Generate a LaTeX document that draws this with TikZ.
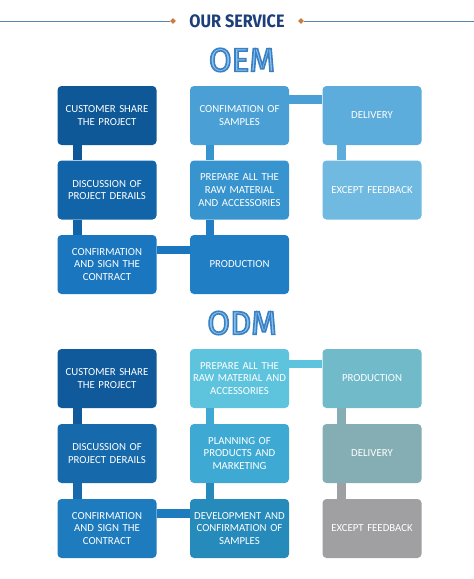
\documentclass[tikz,border=0pt]{standalone}
\usepackage{fontspec}
\setmainfont{Carlito}
\newfontfamily\headfont[FakeStretch=0.9]{Fira Sans}
\newfontfamily\titlefont{Fira Sans}
\usetikzlibrary{shapes.geometric}
\definecolor{navy}{RGB}{28,62,122}
\definecolor{rulecol}{RGB}{88,132,178}
\definecolor{dotcol}{RGB}{204,122,62}
\definecolor{titlefill}{RGB}{140,196,236}
% OEM colours
\definecolor{oemA}{RGB}{14,88,152}
\definecolor{oemB}{RGB}{18,100,168}
\definecolor{oemC}{RGB}{26,118,190}
\definecolor{oemD}{RGB}{32,126,196}
\definecolor{oemE}{RGB}{56,148,206}
\definecolor{oemF}{RGB}{74,160,212}
\definecolor{oemG}{RGB}{92,172,220}
\definecolor{oemH}{RGB}{112,186,226}
% ODM colours
\definecolor{odmA}{RGB}{16,90,156}
\definecolor{odmB}{RGB}{22,106,172}
\definecolor{odmC}{RGB}{30,124,190}
\definecolor{odmD}{RGB}{38,138,186}
\definecolor{odmE}{RGB}{62,170,212}
\definecolor{odmF}{RGB}{94,196,222}
\definecolor{odmG}{RGB}{112,186,202}
\definecolor{odmH}{RGB}{132,174,180}
\definecolor{odmI}{RGB}{160,160,162}
% outlined letters: fill and stroke (stroke in RGB 58,128,196)
\newcommand{\rimtext}[1]{\special{pdf:code q 2 Tr 1.6 w 0.227 0.502 0.769 RG}#1\special{pdf:code Q}}
\tikzstyle{stagebox} = [rectangle, rounded corners=4pt, minimum width=99pt, minimum height=59pt, text width=96pt, align=center, text=white, font=\fontsize{10.8}{12.6}\selectfont, inner sep=0pt]
\tikzstyle{link} = [line width=8.5pt]
\tikzstyle{bigtitle} = [font=\titlefont\fontsize{33}{33}\selectfont, inner sep=0pt, text=titlefill]

\begin{document}
\begin{tikzpicture}[x=1pt,y=-1pt]
\useasboundingbox (0,0) rectangle (474,579);
\fill[white] (0,0) rectangle (474,579);

% Header
\node[font=\headfont\bfseries\fontsize{18}{18}\selectfont, text=navy] (service) at (237,21) {OUR SERVICE};
\node[diamond, fill=dotcol, inner sep=0pt, minimum size=6pt] (dotleft) at (173,21) {};
\node[diamond, fill=dotcol, inner sep=0pt, minimum size=6pt] (dotright) at (301,21) {};
\coordinate (ruleleft) at (0,21);
\coordinate (ruleright) at (474,21);
\draw[rulecol, line width=1pt] (ruleleft) -- (dotleft);
\draw[rulecol, line width=1pt] (dotright) -- (ruleright);

% OEM
\node[bigtitle] (oemtitle) at (242,60) {\rimtext{OEM}};

\node[stagebox, fill=oemA] (oemshare) at (107,115.5) {CUSTOMER SHARE\\THE PROJECT};
\node[stagebox, fill=oemB] (oemdiscuss) at (107,190) {DISCUSSION OF\\PROJECT DERAILS};
\node[stagebox, fill=oemC] (oemsign) at (107,264.5) {CONFIRMATION\\AND SIGN THE\\CONTRACT};
\node[stagebox, fill=oemD] (oemprod) at (239.5,264.5) {PRODUCTION};
\node[stagebox, fill=oemE] (oemraw) at (239.5,190) {PREPARE ALL THE\\RAW MATERIAL\\AND ACCESSORIES};
\node[stagebox, fill=oemF] (oemsample) at (239.5,115.5) {CONFIMATION OF\\SAMPLES};
\node[stagebox, fill=oemG] (oemdeliver) at (372,115.5) {DELIVERY};
\node[stagebox, fill=oemH] (oemfeedback) at (372,190) {EXCEPT FEEDBACK};

\draw[link, oemA] ([xshift=20pt]oemshare.south west) -- ([xshift=20pt]oemdiscuss.north west);
\draw[link, oemB] ([xshift=20pt]oemdiscuss.south west) -- ([xshift=20pt]oemsign.north west);
\draw[link, oemC] ([yshift=-15pt]oemsign.north east) -- ([yshift=-15pt]oemprod.north west);
\draw[link, oemD] ([xshift=20pt]oemprod.north west) -- ([xshift=20pt]oemraw.south west);
\draw[link, oemE] ([xshift=20pt]oemraw.north west) -- ([xshift=20pt]oemsample.south west);
\draw[link, oemF] ([yshift=-13.5pt]oemsample.north east) -- ([yshift=-13.5pt]oemdeliver.north west);
\draw[link, oemG] ([xshift=19pt]oemdeliver.south west) -- ([xshift=19pt]oemfeedback.north west);

% ODM
\node[bigtitle] (odmtitle) at (242,323) {\rimtext{ODM}};

\node[stagebox, fill=odmA] (odmshare) at (107,378.5) {CUSTOMER SHARE\\THE PROJECT};
\node[stagebox, fill=odmB] (odmdiscuss) at (107,453.5) {DISCUSSION OF\\PROJECT DERAILS};
\node[stagebox, fill=odmC] (odmsign) at (107,528.5) {CONFIRMATION\\AND SIGN THE\\CONTRACT};
\node[stagebox, fill=odmD] (odmdevelop) at (239.5,528.5) {DEVELOPMENT AND\\CONFIRMATION OF\\SAMPLES};
\node[stagebox, fill=odmE] (odmplan) at (239.5,453.5) {PLANNING OF\\PRODUCTS AND\\MARKETING};
\node[stagebox, fill=odmF] (odmraw) at (239.5,378.5) {PREPARE ALL THE\\RAW MATERIAL AND\\ACCESSORIES};
\node[stagebox, fill=odmG] (odmprod) at (372,378.5) {PRODUCTION};
\node[stagebox, fill=odmH] (odmdeliver) at (372,453.5) {DELIVERY};
\node[stagebox, fill=odmI] (odmfeedback) at (372,528.5) {EXCEPT FEEDBACK};

\draw[link, odmA] ([xshift=20pt]odmshare.south west) -- ([xshift=20pt]odmdiscuss.north west);
\draw[link, odmB] ([xshift=20pt]odmdiscuss.south west) -- ([xshift=20pt]odmsign.north west);
\draw[link, odmC] ([yshift=-14.5pt]odmsign.north east) -- ([yshift=-14.5pt]odmdevelop.north west);
\draw[link, odmD] ([xshift=20pt]odmdevelop.north west) -- ([xshift=20pt]odmplan.south west);
\draw[link, odmE] ([xshift=20pt]odmplan.north west) -- ([xshift=20pt]odmraw.south west);
\draw[link, odmF] ([yshift=-15pt]odmraw.north east) -- ([yshift=-15pt]odmprod.north west);
\draw[link, odmH] ([xshift=19pt]odmprod.south west) -- ([xshift=19pt]odmdeliver.north west);
\draw[link, odmI!90!odmH] ([xshift=19pt]odmdeliver.south west) -- ([xshift=19pt]odmfeedback.north west);
\end{tikzpicture}
\end{document}
